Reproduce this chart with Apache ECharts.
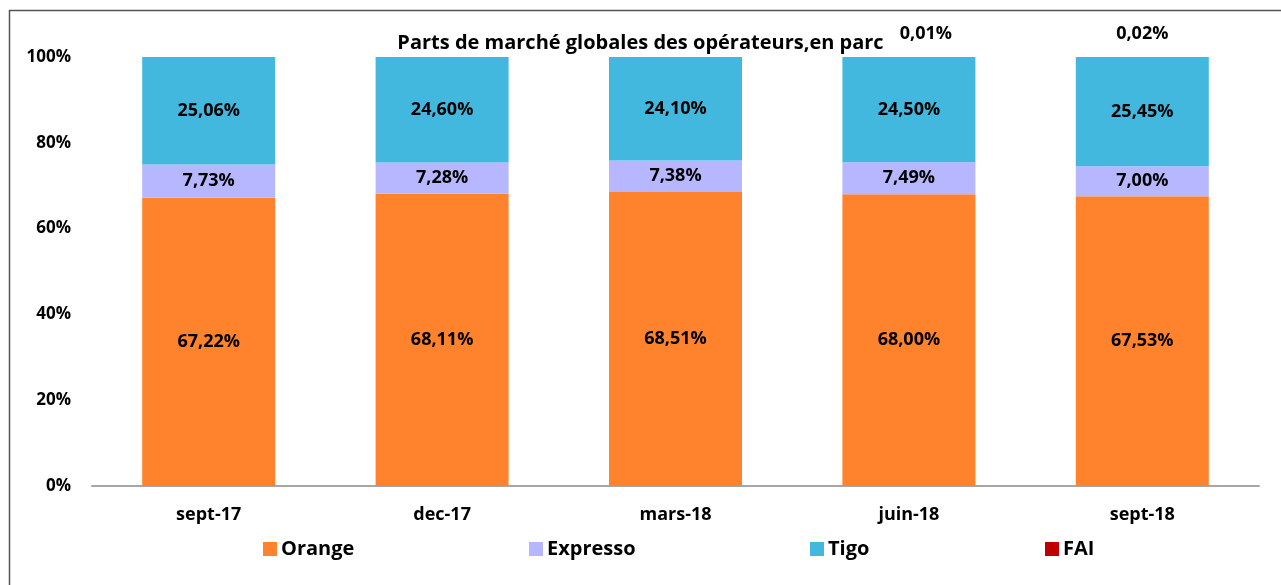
<!DOCTYPE html>
<html>
<head>
<meta charset="utf-8">
<script src="https://cdn.jsdelivr.net/npm/echarts@6/dist/echarts.min.js"></script>
<style>
  html, body { margin: 0; padding: 0; background: #fff; }
  #chart { width: 1281px; height: 585px; }
</style>
</head>
<body>
<div id="chart"></div>
<script>
// données
var periodes = ['sept-17', 'dec-17', 'mars-18', 'juin-18', 'sept-18'];
var orange = [67.22, 68.11, 68.51, 68.00, 67.53];
var expresso = [7.73, 7.28, 7.38, 7.49, 7.00];
var tigo = [25.06, 24.60, 24.10, 24.50, 25.45];
var fai = [0, 0, 0, 0.01, 0.02];
var yTicks = ['0%', '20%', '40%', '60%', '80%', '100%'];

var police = 'Open Sans';

function pct(v) {
    return v.toFixed(2).replace('.', ',') + '%';
}

var myChart = echarts.init(document.getElementById('chart'));

function serie(name, data, color, pos) {
    return {
        name: name,
        type: 'bar',
        stack: 'total',
        barWidth: 133,
        data: data,
        itemStyle: { color: color },
        label: {
            show: true,
            position: pos,
            distance: 14,
            color: '#000',
            fontFamily: police,
            fontWeight: 'bold',
            fontSize: 18,
            formatter: function (p) {
                return p.value > 0 ? pct(p.value) : '';
            }
        }
    };
}

// l'étiquette FAI de juin-18 est décalée à droite pour ne pas toucher le titre
var faiData = fai.map(function (v, i) {
    return i === 3 ? { value: v, label: { offset: [17, 0] } } : v;
});

var legendes = [
    { name: 'Orange', left: 263 },
    { name: 'Expresso', left: 529 },
    { name: 'Tigo', left: 810 },
    { name: 'FAI', left: 1045 }
];

var option = {
    backgroundColor: '#fff',
    animation: false,
    title: {
        text: 'Parts de marché globales des opérateurs,en parc',
        left: 'center',
        top: 28,
        textStyle: { fontFamily: police, fontWeight: 'bold', fontSize: 20, color: '#000' }
    },
    graphic: [{
        type: 'rect',
        shape: { x: 9.5, y: 10.5, width: 1290, height: 600 },
        style: { fill: 'none', stroke: '#555', lineWidth: 1.5 },
        silent: true
    }],
    legend: legendes.map(function (l) {
        return {
            data: [l.name],
            left: l.left,
            top: 539,
            padding: 0,
            itemWidth: 14,
            itemHeight: 14,
            itemGap: 6,
            icon: 'rect',
            textStyle: { fontFamily: police, fontWeight: 'bold', fontSize: 20, color: '#000', padding: [0, 0, 0, -1] }
        };
    }),
    grid: { left: 92, right: 22, top: 57, bottom: 99 },
    xAxis: {
        type: 'category',
        data: periodes,
        axisTick: { show: false },
        axisLine: { lineStyle: { color: '#a6a6a6', width: 2 } },
        axisLabel: { margin: 20, color: '#000', fontFamily: police, fontWeight: 'bold', fontSize: 18 }
    },
    yAxis: {
        type: 'value',
        min: 0,
        max: 100,
        interval: 20,
        splitLine: { show: false },
        axisLine: { show: false },
        axisTick: { show: false },
        axisLabel: {
            margin: 21,
            color: '#000',
            fontFamily: police,
            fontWeight: 'bold',
            fontSize: 17,
            formatter: function (v) { return yTicks[v / 20]; }
        }
    },
    series: [
        serie('Orange', orange, '#FF832C', 'inside'),
        serie('Expresso', expresso, '#B7B7FF', 'inside'),
        serie('Tigo', tigo, '#43B8DE', 'inside'),
        serie('FAI', faiData, '#C00000', 'top')
    ]
};

myChart.setOption(option);
</script>
</body>
</html>
